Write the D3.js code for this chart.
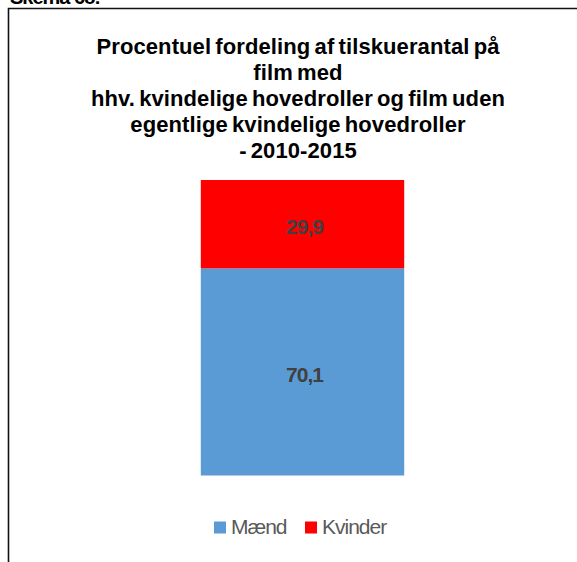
<!DOCTYPE html>
<html>
<head>
<meta charset="utf-8">
<script src="https://cdn.jsdelivr.net/npm/d3@7/dist/d3.min.js"></script>
<style>
  html, body { margin: 0; padding: 0; background: #fff; }
  svg { display: block; }
</style>
</head>
<body>
<script>
// Data
const categories = ["2010-2015"];
const seriesNames = ["Mænd", "Kvinder"];
const maendValues = [70.1];
const kvinderValues = [29.9];
const seriesColors = ["#5B9BD5", "#FF0000"];
const titleLines = [
  "Procentuel fordeling af tilskuerantal på",
  "film med",
  "hhv. kvindelige hovedroller og film uden",
  "egentlige kvindelige hovedroller",
  "- 2010-2015"
];
const captionText = "Skema 68:";

const W = 577, H = 562;
const FONT = "Liberation Sans, Arial, sans-serif";
const svg = d3.select("body").append("svg").attr("width", W).attr("height", H);

// caption above the frame (mostly cut off by the top edge)
svg.append("text")
  .attr("x", 10).attr("y", 4)
  .attr("font-family", FONT)
  .attr("font-weight", "bold").attr("font-size", 20)
  .attr("letter-spacing", -1)
  .attr("fill", "#000")
  .text(captionText);

// frame
svg.append("path")
  .attr("d", `M8.5,${H} V8.5 H${W}`)
  .attr("fill", "none").attr("stroke", "#111").attr("stroke-width", 1.6);

// title
const title = svg.append("text")
  .attr("text-anchor", "middle")
  .attr("font-family", FONT)
  .attr("font-weight", "bold").attr("font-size", 22)
  .attr("letter-spacing", 0.1)
  .attr("word-spacing", -2)
  .attr("fill", "#000");
titleLines.forEach((t, i) => {
  title.append("tspan").attr("x", 298).attr("y", 54 + i * 26).text(t);
});

// scales
const x = d3.scaleBand().domain(categories).range([133, 472]).paddingInner(0.4).paddingOuter(0.2);
const y = d3.scaleLinear().domain([0, 100]).range([475.5, 180]);

const rows = categories.map((c, i) => ({ cat: c, Mænd: maendValues[i], Kvinder: kvinderValues[i] }));
const stack = d3.stack().keys(seriesNames)(rows);

const layers = svg.append("g").selectAll("g").data(stack).join("g")
  .attr("fill", (d, i) => seriesColors[i]);

layers.selectAll("rect").data(d => d).join("rect")
  .attr("x", d => x(d.data.cat))
  .attr("width", x.bandwidth())
  .attr("y", d => y(d[1]))
  .attr("height", d => y(d[0]) - y(d[1]));

// value labels
const fmt = v => d3.format(".1f")(v).replace(".", ",");
layers.selectAll("text").data((d, i) => d.map(p => ({ p, key: seriesNames[i] }))).join("text")
  .attr("x", d => x(d.p.data.cat) + x.bandwidth() / 2 + 2)
  .attr("y", d => (y(d.p[0]) + y(d.p[1])) / 2 + 10)
  .attr("text-anchor", "middle")
  .attr("font-family", FONT)
  .attr("font-weight", "bold").attr("font-size", 21)
  .attr("letter-spacing", -1)
  .attr("fill", "#404040")
  .text(d => fmt(d.p.data[d.key]));

// legend
const legendItems = [
  { name: seriesNames[0], color: seriesColors[0], x: 214 },
  { name: seriesNames[1], color: seriesColors[1], x: 305 }
];
const lg = svg.append("g").selectAll("g").data(legendItems).join("g")
  .attr("transform", d => `translate(${d.x},521.5)`);
lg.append("rect").attr("width", 12).attr("height", 12).attr("fill", d => d.color);
lg.append("text")
  .attr("x", 17).attr("y", 12.5)
  .attr("font-family", FONT)
  .attr("font-size", 21)
  .attr("letter-spacing", -1)
  .attr("fill", "#595959")
  .text(d => d.name);
</script>
</body>
</html>
